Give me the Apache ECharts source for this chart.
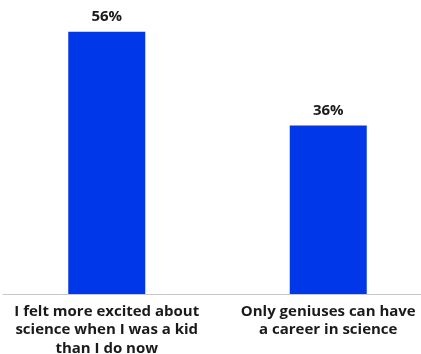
<!DOCTYPE html>
<html>
<head>
<meta charset="utf-8">
<script src="https://cdn.jsdelivr.net/npm/echarts@6/dist/echarts.min.js"></script>
<style>html,body{margin:0;padding:0;background:#fff;}#c{width:421px;height:354px;}</style>
</head>
<body>
<div id="c"></div>
<script>
const categories = [
  "I felt more excited about\nscience when I was a kid\nthan I do now",
  "Only geniuses can have\na career in science"
];
const values = [56, 36];

const chart = echarts.init(document.getElementById('c'), null, {renderer: 'canvas'});
const FONT = 'Open Sans';
chart.setOption({
  animation: false,
  grid: [
    {left: -4, width: 443, top: 13, height: 281, containLabel: false, outerBoundsMode: 'none'},
    {left: 3, right: 0, top: 13, height: 281, containLabel: false, outerBoundsMode: 'none'}
  ],
  xAxis: [
    {
      type: 'category', gridIndex: 0, data: categories,
      axisLine: {show: false}, axisTick: {show: false},
      axisLabel: {interval: 0, margin: 8, color: '#1a1a1a', fontFamily: FONT, fontWeight: 'bold', fontSize: 15, lineHeight: 18.5}
    },
    {
      type: 'value', gridIndex: 1, min: 0, max: 1,
      axisLine: {show: true, lineStyle: {color: '#c8c8c8', width: 1}},
      axisTick: {show: false}, axisLabel: {show: false}, splitLine: {show: false}
    }
  ],
  yAxis: [
    {type: 'value', gridIndex: 0, min: 0, max: 60, show: false, splitLine: {show: false}},
    {type: 'value', gridIndex: 1, min: 0, max: 1, show: false, splitLine: {show: false}}
  ],
  series: [{
    type: 'bar', xAxisIndex: 0, yAxisIndex: 0, data: values, barWidth: 77,
    itemStyle: {color: '#0037e8'},
    label: {show: true, position: 'top', distance: 7, formatter: '{c}%', color: '#1a1a1a', fontFamily: FONT, fontWeight: 'bold', fontSize: 15}
  }]
});
</script>
</body>
</html>
